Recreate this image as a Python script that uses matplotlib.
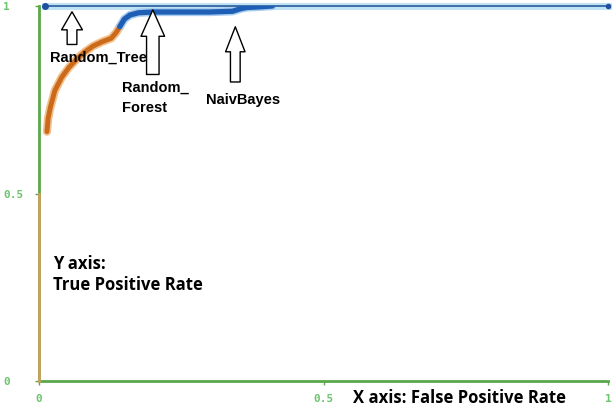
import matplotlib.pyplot as plt

# orange part of the curve (low fpr)
orange_fpr = [0.014, 0.016, 0.02, 0.028, 0.04, 0.052, 0.066, 0.08, 0.095, 0.11, 0.127, 0.136, 0.142]
orange_tpr = [0.665, 0.70, 0.73, 0.775, 0.81, 0.835, 0.858, 0.877, 0.893, 0.904, 0.914, 0.93, 0.945]

# blue part of the curve
blue_fpr = [0.142, 0.15, 0.16, 0.175, 0.2, 0.25, 0.3, 0.34, 0.355, 0.365, 0.39, 0.41]
blue_tpr = [0.945, 0.965, 0.976, 0.982, 0.984, 0.984, 0.984, 0.986, 0.993, 0.996, 0.998, 1.0]

# thin line along tpr = 1
top_fpr = [0.01, 1.0]
top_tpr = [1.0, 1.0]

tick_vals = [0, 0.5, 1]
tick_labels = ["0", "0.5", "1"]

green = "#5aa84a"
tick_green = "#6cc46c"

fig = plt.figure(figsize=(6.12, 4.12), dpi=100)
ax = fig.add_axes([39 / 612, 31 / 412, 569 / 612, 375 / 412])
ax.set_xlim(0, 1)
ax.set_ylim(0, 1)

for s in ["top", "right"]:
    ax.spines[s].set_visible(False)
for s in ["left", "bottom"]:
    ax.spines[s].set_color(green)
    ax.spines[s].set_linewidth(2)

# tan overlay on lower part of left axis
ax.plot([0, 0], [0, 0.5], color="#c8a060", lw=2, clip_on=False, zorder=3)

# glows + lines
ax.plot(top_fpr, top_tpr, color="#bfe3f5", lw=5, clip_on=False, zorder=2)
ax.plot(top_fpr, top_tpr, color="#2a5a9a", lw=1.2, clip_on=False, zorder=3)
ax.plot(top_fpr[:1], top_tpr[:1], "o", color="#1f4f9f", ms=4, clip_on=False, zorder=4)
ax.plot(top_fpr[-1:], top_tpr[-1:], "o", color="#1f4f9f", ms=3, clip_on=False, zorder=4)

ax.plot(orange_fpr, orange_tpr, color="#f2c08a", lw=6, solid_capstyle="round", zorder=2)
ax.plot(orange_fpr, orange_tpr, color="#cc6a1c", lw=3.5, solid_capstyle="round", zorder=3)
ax.plot(blue_fpr, blue_tpr, color="#a8cdef", lw=6, solid_capstyle="round", zorder=2)
ax.plot(blue_fpr, blue_tpr, color="#1e5fb5", lw=3.8, solid_capstyle="round", zorder=3)

ax.set_xticks(tick_vals)
ax.set_xticklabels(tick_labels)
ax.set_yticks(tick_vals)
ax.set_yticklabels(tick_labels)
ax.tick_params(colors=green, labelcolor=tick_green, length=3, width=1,
               labelsize=8)
for t in ax.get_xticklabels() + ax.get_yticklabels():
    t.set_family("DejaVu Sans Mono")
    t.set_fontweight("bold")
for t in ax.get_yticklabels():
    t.set_horizontalalignment("left")
ax.tick_params(axis="y", pad=23)
ax.tick_params(axis="x", pad=6)

# hollow arrows with labels
ax.annotate("", xy=(0.058, 0.992), xytext=(0.058, 0.89),
            arrowprops=dict(arrowstyle="simple,head_length=13,head_width=15,tail_width=7",
                            mutation_scale=1, fc="white", ec="black", lw=1))
ax.annotate("", xy=(0.20, 0.997), xytext=(0.20, 0.81),
            arrowprops=dict(arrowstyle="simple,head_length=19,head_width=17,tail_width=9",
                            mutation_scale=1, fc="white", ec="black", lw=1))
ax.annotate("", xy=(0.345, 0.952), xytext=(0.345, 0.79),
            arrowprops=dict(arrowstyle="simple,head_length=18,head_width=14,tail_width=7",
                            mutation_scale=1, fc="white", ec="black", lw=1))

lab = dict(family="Liberation Sans", fontweight="bold", fontsize=10.5, color="black")
ax.text(0.105, 0.862, "Random_Tree", ha="center", va="center", **lab)
ax.text(0.145, 0.8, "Random_\nForest", ha="left", va="top", linespacing=1.5, **lab)
ax.text(0.358, 0.749, "NaivBayes", ha="center", va="center", **lab)

ax_lab = dict(family="Open Sans", fontweight="bold", fontsize=12, color="black")
ax.text(0.024, 0.285, "Y axis:\nTrue Positive Rate", ha="left", va="center",
        linespacing=1.2, **ax_lab)
ax.text(0.552, -0.045, "X axis: False Positive Rate", ha="left", va="center",
        clip_on=False, **ax_lab)

fig.savefig("out.png", dpi=100, facecolor="white")
